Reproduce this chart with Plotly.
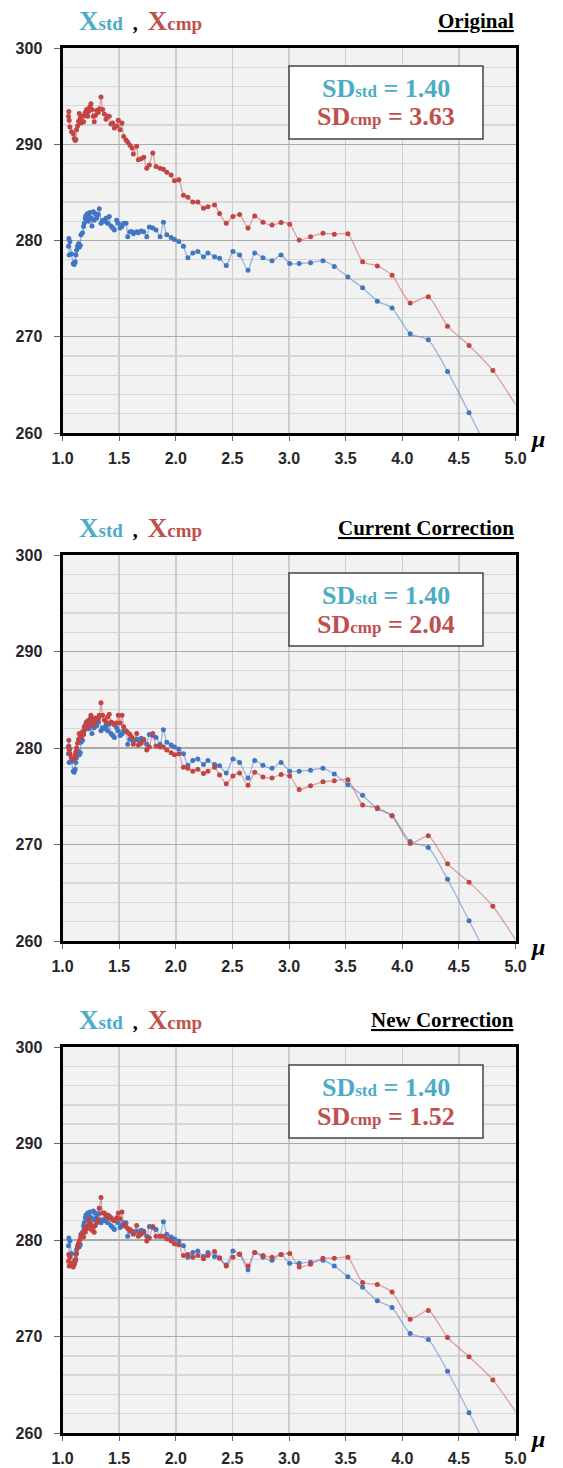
import plotly.graph_objects as go

# ---------------- data ----------------
mu = [1.053, 1.056, 1.059, 1.065, 1.080, 1.095, 1.103, 1.112, 1.118, 1.124,
      1.133, 1.142, 1.148, 1.157, 1.163, 1.177, 1.186, 1.192, 1.201, 1.207,
      1.213, 1.222, 1.230, 1.236, 1.242, 1.251, 1.260, 1.272, 1.280, 1.290,
      1.301, 1.316, 1.325, 1.340, 1.354, 1.369, 1.384, 1.398, 1.413, 1.428,
      1.443, 1.458, 1.478, 1.493, 1.508, 1.525, 1.540, 1.561, 1.576, 1.596,
      1.614, 1.626, 1.655, 1.670, 1.694, 1.717, 1.744, 1.767, 1.797, 1.826,
      1.862, 1.891, 1.921, 1.959, 1.989, 2.027, 2.068, 2.107, 2.151, 2.195,
      2.245, 2.284, 2.343, 2.387, 2.446, 2.505, 2.564, 2.638, 2.697, 2.770,
      2.850, 2.930, 3.006, 3.090, 3.190, 3.300, 3.400, 3.520, 3.650, 3.780,
      3.910, 4.070, 4.230, 4.400, 4.590, 4.800, 5.030]

x_std = [279.4, 280.2, 278.5, 279.9, 278.6, 277.6, 277.5, 277.8, 278.5, 279.0,
         279.4, 279.65, 279.3, 279.5, 280.6, 280.8, 281.45, 281.8, 282.3, 282.6,
         282.1, 282.8, 282.0, 282.5, 282.9, 282.3, 281.5, 283.0, 282.1, 282.8,
         282.3, 282.7, 283.3, 281.8, 282.1, 282.0, 282.3, 281.8, 282.5, 281.5,
         281.3, 281.1, 282.1, 281.8, 281.3, 281.45, 281.8, 281.8, 280.4, 280.9,
         280.9, 280.7, 280.9, 280.8, 281.0, 280.9, 280.4, 281.4, 281.3, 281.1,
         280.4, 281.9, 280.6, 280.3, 280.1, 279.9, 279.4, 278.2, 278.7, 278.85,
         278.3, 278.7, 278.3, 278.15, 277.4, 278.85, 278.5, 276.9, 278.7, 278.2,
         277.9, 278.5, 277.6, 277.6, 277.7, 277.9, 277.3, 276.2, 275.1, 273.7,
         273.0, 270.3, 269.7, 266.4, 262.1, 257.3, None]

x_cmp_original = [292.9, 293.4, 292.5, 291.8, 291.3, 291.1, 290.6, 290.4, 290.5, 291.5,
                  291.9, 292.4, 293.2, 292.7, 292.2, 292.9, 292.35, 293.0, 293.3, 293.0,
                  293.6, 292.9, 293.4, 293.7, 293.9, 294.2, 293.6, 292.9, 292.35, 293.0,
                  293.5, 293.3, 293.7, 294.9, 293.6, 293.15, 292.6, 292.9, 292.9, 292.1,
                  292.2, 291.7, 291.9, 292.5, 291.5, 292.2, 290.8, 290.45, 290.2, 289.9,
                  289.6, 289.0, 289.8, 288.4, 288.5, 288.65, 287.5, 287.85, 289.1, 287.7,
                  287.5, 287.4, 287.1, 286.8, 286.2, 286.3, 284.7, 284.5, 284.0, 284.0,
                  283.35, 283.5, 283.7, 282.8, 281.8, 282.5, 282.7, 281.3, 282.55, 281.9,
                  281.6, 281.86, 281.7, 280.06, 280.4, 280.75, 280.65, 280.7, 277.8, 277.36,
                  276.4, 273.5, 274.15, 271.1, 269.1, 266.5, 262.4]

x_cmp_current = [280.1, 280.8, 279.8, 279.4, 279.0, 278.8, 278.9, 279.3, 279.6, 280.0,
                 280.5, 280.9, 281.5, 281.2, 281.1, 281.7, 281.4, 282.2, 282.0, 282.3,
                 282.7, 282.1, 282.4, 282.8, 283.0, 283.4, 282.9, 282.6, 282.4, 283.1,
                 282.9, 283.0, 283.4, 284.7, 283.4, 282.9, 282.7, 283.2, 283.5, 282.7,
                 282.6, 282.4, 282.6, 283.4, 282.6, 283.4, 282.2, 281.7, 281.6, 281.4,
                 281.1, 280.4, 281.5, 280.3, 280.5, 280.8, 279.8, 280.1, 281.5, 280.2,
                 280.1, 280.1, 279.8, 279.5, 279.3, 279.4, 278.0, 277.9, 277.6, 277.8,
                 277.35, 277.6, 278.0, 277.2, 276.3, 277.1, 277.4, 276.15, 277.5, 277.0,
                 276.9, 277.25, 277.1, 275.7, 276.1, 276.5, 276.6, 276.7, 274.1, 273.8,
                 272.95, 270.1, 270.9, 268.0, 266.1, 263.6, 259.6]

x_cmp_new = [277.8, 278.5, 277.3, 278.2, 277.6, 277.2, 277.5, 277.9, 278.0, 278.6,
             279.2, 279.6, 279.9, 280.1, 280.4, 280.6, 280.3, 281.1, 280.8, 281.2,
             281.4, 281.2, 282.1, 281.6, 281.8, 281.5, 281.0, 281.3, 280.8, 281.5,
             281.8, 282.1, 283.3, 284.4, 282.8, 282.8, 282.5, 282.6, 282.3, 282.3,
             282.1, 282.0, 282.3, 282.8, 282.2, 282.9, 281.6, 281.4, 281.2, 281.1,
             280.9, 280.6, 281.5, 280.4, 280.6, 280.8, 279.9, 280.2, 281.4, 280.4,
             280.4, 280.4, 280.1, 279.9, 279.6, 279.5, 278.4, 278.5, 278.2, 278.4,
             278.05, 278.4, 278.8, 278.1, 277.3, 278.2, 278.55, 277.3, 278.7, 278.4,
             278.2, 278.5, 278.6, 277.2, 277.5, 278.1, 278.1, 278.2, 275.6, 275.4,
             274.6, 271.8, 272.7, 269.9, 267.9, 265.5, 261.7]

panel_titles = ["Original", "Current Correction", "New Correction"]
sd_std_labels = ["1.40", "1.40", "1.40"]
sd_cmp_labels = ["3.63", "2.04", "1.52"]
x_tick_vals = [1.0, 1.5, 2.0, 2.5, 3.0, 3.5, 4.0, 4.5, 5.0]
y_tick_vals = [260, 270, 280, 290, 300]

cmp_series = [x_cmp_original, x_cmp_current, x_cmp_new]

# ---------------- styling / layout ----------------
W, H = 563, 1468
LEFT_PX, RIGHT_PX = 62.5, 515.5
panel_px = [(48, 433), (555, 941), (1047, 1433)]

C_STD_TXT = "#4bacc6"
C_CMP_TXT = "#c0504d"
C_STD_MK = "#4275c2"
C_CMP_MK = "#c44444"
C_STD_LN = "rgba(80,130,200,0.55)"
C_CMP_LN = "rgba(200,80,80,0.5)"
SERIF = "Liberation Serif"
SANS = "Liberation Sans"


def px_x(p):
    return p / W


def px_y(p):
    return 1 - p / H


fig = go.Figure()
layout = dict(
    width=W, height=H,
    margin=dict(l=0, r=0, t=0, b=0, pad=0, autoexpand=False),
    paper_bgcolor="white",
    plot_bgcolor="#f2f2f2",
    showlegend=False,
)
shapes = []
annotations = []

for i, (top, bot) in enumerate(panel_px):
    n = i + 1
    xa = "x" if n == 1 else f"x{n}"
    ya = "y" if n == 1 else f"y{n}"
    xkey = "xaxis" if n == 1 else f"xaxis{n}"
    ykey = "yaxis" if n == 1 else f"yaxis{n}"

    fig.add_trace(go.Scatter(
        x=mu, y=x_std, xaxis=xa, yaxis=ya, mode="lines+markers",
        line=dict(color=C_STD_LN, width=1.3, shape="spline", smoothing=0.6),
        marker=dict(color=C_STD_MK, size=5),
    ))
    fig.add_trace(go.Scatter(
        x=mu, y=cmp_series[i], xaxis=xa, yaxis=ya, mode="lines+markers",
        line=dict(color=C_CMP_LN, width=1.3, shape="spline", smoothing=0.6),
        marker=dict(color=C_CMP_MK, size=5),
    ))

    layout[xkey] = dict(
        domain=[px_x(LEFT_PX), px_x(RIGHT_PX)], anchor=ya, automargin=False,
        range=[1, 5], tickvals=x_tick_vals, ticktext=[f"{v:.1f}" for v in x_tick_vals],
        showgrid=True, gridcolor="#cdcdcd", gridwidth=1.5,
        showline=True, linecolor="black", linewidth=3, mirror=True,
        ticks="outside", ticklen=5, tickcolor="#666", tickwidth=1,
        ticklabelstandoff=4,
        tickfont=dict(family=SANS, size=16, color="#262626", weight="bold"),
        zeroline=False, fixedrange=True,
    )
    layout[ykey] = dict(
        domain=[px_y(bot), px_y(top)], anchor=xa, automargin=False,
        range=[260, 300], tickvals=y_tick_vals,
        showgrid=True, gridcolor="#a9a9a9", gridwidth=1.4,
        minor=dict(dtick=2, tick0=260, showgrid=True, gridcolor="#d7d7d7", gridwidth=1.4),
        showline=True, linecolor="black", linewidth=3, mirror=True,
        ticks="outside", ticklen=6, tickcolor="#666", tickwidth=1,
        ticklabelstandoff=8,
        tickfont=dict(family=SANS, size=16, color="#262626", weight="bold"),
        zeroline=False, fixedrange=True,
    )

    # header: X_std , X_cmp
    annotations.append(dict(
        xref="paper", yref="paper", x=px_x(77), y=px_y(top - 27),
        xanchor="left", yanchor="middle", showarrow=False,
        font=dict(family=SERIF, color="black", size=20),
        text=(f"<b><span style='color:{C_STD_TXT};font-size:27px'>X</span>"
              f"<span style='color:{C_STD_TXT};font-size:19px'>std</span>"
              f"  ,  "
              f"<span style='color:{C_CMP_TXT};font-size:27px'>X</span>"
              f"<span style='color:{C_CMP_TXT};font-size:19px'>cmp</span></b>"),
    ))
    # panel title
    annotations.append(dict(
        xref="paper", yref="paper", x=px_x(516), y=px_y(top - 27),
        xanchor="right", yanchor="middle", showarrow=False,
        font=dict(family=SERIF, color="black", size=21),
        text=f"<b><u>{panel_titles[i]}</u></b>",
    ))
    # mu label
    annotations.append(dict(
        xref="paper", yref="paper", x=px_x(537), y=px_y(bot + 6),
        xanchor="center", yanchor="middle", showarrow=False,
        font=dict(family=SERIF, color="black", size=24),
        text="<b><i>μ</i></b>",
    ))
    # SD box
    shapes.append(dict(
        type="rect", xref="paper", yref="paper",
        x0=px_x(289), x1=px_x(483), y0=px_y(top + 91), y1=px_y(top + 18),
        line=dict(color="#444", width=1.5), fillcolor="white", layer="above",
    ))
    annotations.append(dict(
        xref="paper", yref="paper", x=px_x(386), y=px_y(top + 40),
        xanchor="center", yanchor="middle", showarrow=False,
        font=dict(family=SERIF, color=C_STD_TXT, size=26),
        text=(f"<b>SD<span style='font-size:17px'>std</span> = {sd_std_labels[i]}</b>"),
    ))
    annotations.append(dict(
        xref="paper", yref="paper", x=px_x(386), y=px_y(top + 69),
        xanchor="center", yanchor="middle", showarrow=False,
        font=dict(family=SERIF, color=C_CMP_TXT, size=26),
        text=(f"<b>SD<span style='font-size:17px'>cmp</span> = {sd_cmp_labels[i]}</b>"),
    ))

layout["shapes"] = shapes
layout["annotations"] = annotations
fig.update_layout(**layout)
fig.write_html("out.html",
               config={"displayModeBar": False, "staticPlot": True},
               post_script="document.body.style.margin='0px';document.body.style.overflow='hidden';")
